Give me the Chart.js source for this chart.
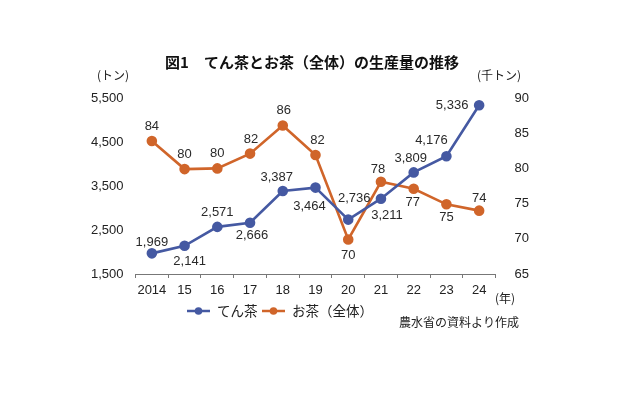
<!DOCTYPE html>
<html lang="ja">
<head>
<meta charset="UTF-8">
<title>てん茶とお茶（全体）の生産量の推移</title>
<script src="https://cdn.jsdelivr.net/npm/chart.js"></script>
<style>
  html, body { margin: 0; padding: 0; background: #fff; }
  #wrap { width: 638px; height: 404px; position: relative; }
</style>
</head>
<body>
<div id="wrap"><canvas id="myChart"></canvas></div>
<script>
// データ（農水省の資料より）
const years = ['2014', '15', '16', '17', '18', '19', '20', '21', '22', '23', '24'];
const tencha = [1969, 2141, 2571, 2666, 3387, 3464, 2736, 3211, 3809, 4176, 5336];   // トン
const ochaTotal = [83.9, 79.9, 80.0, 82.1, 86.1, 81.9, 69.9, 78.1, 77.1, 74.9, 74.0]; // 千トン
const leftTicks = [1500, 2500, 3500, 4500, 5500];
const rightTicks = [65, 70, 75, 80, 85, 90];

const BLUE = '#4559a2';
const ORANGE = '#d0652a';
const JP = '"Noto Sans CJK JP", "Noto Sans", sans-serif';
const NUM = '"Liberation Sans", Arial, sans-serif';

// ラベルの位置（点からのずれ）
const tenchaLabelOffset = [[0, -11], [5, 16], [0, -14], [2, 13], [-6, -14], [-6, 19],
                           [6, -21], [6, 17], [-3, -14], [-15, -16], [-27, 0]];
const ochaLabelOffset = [[0, -15], [0, -15], [0, -15], [1, -14], [1, -15], [2, -15],
                         [0, 16], [-3, -12], [-1, 14], [0, 13], [0, -12]];

const labelPlugin = {
    id: 'valueLabels',
    afterDatasetsDraw(chart) {
        const ctx = chart.ctx;
        ctx.save();
        ctx.font = '13px ' + NUM;
        ctx.fillStyle = '#2a2a2a';
        ctx.textAlign = 'center';
        ctx.textBaseline = 'middle';
        chart.getDatasetMeta(0).data.forEach((pt, i) => {
            const o = tenchaLabelOffset[i];
            ctx.fillText(tencha[i].toLocaleString('en-US'), pt.x + o[0], pt.y + o[1]);
        });
        chart.getDatasetMeta(1).data.forEach((pt, i) => {
            const o = ochaLabelOffset[i];
            ctx.fillText(String(Math.round(ochaTotal[i])), pt.x + o[0], pt.y + o[1]);
        });
        ctx.restore();
    }
};

// タイトル・単位・凡例・出所
const textPlugin = {
    id: 'extraText',
    afterDraw(chart) {
        const ctx = chart.ctx;
        ctx.save();
        ctx.fillStyle = '#111';
        ctx.textBaseline = 'middle';

        ctx.font = 'bold 15px ' + JP;
        ctx.textAlign = 'center';
        ctx.fillText('図1　てん茶とお茶（全体）の生産量の推移', 312, 62);

        ctx.font = '12px ' + JP;
        ctx.fillStyle = '#222';
        ctx.textAlign = 'left';
        ctx.fillText('(トン)', 97, 75);
        ctx.textAlign = 'right';
        ctx.fillText('(千トン)', 521, 75);
        ctx.textAlign = 'left';
        ctx.fillText('(年)', 495, 298);

        ctx.textAlign = 'right';
        ctx.fillText('農水省の資料より作成', 519, 322);

        // 凡例
        const items = [
            { x: 187, color: BLUE, text: 'てん茶' },
            { x: 262, color: ORANGE, text: 'お茶（全体）' }
        ];
        ctx.font = '13.5px ' + JP;
        ctx.textAlign = 'left';
        items.forEach(it => {
            ctx.strokeStyle = it.color;
            ctx.lineWidth = 2.5;
            ctx.beginPath();
            ctx.moveTo(it.x, 311);
            ctx.lineTo(it.x + 23, 311);
            ctx.stroke();
            ctx.fillStyle = it.color;
            ctx.beginPath();
            ctx.arc(it.x + 11.5, 311, 3.8, 0, Math.PI * 2);
            ctx.fill();
            ctx.fillStyle = '#222';
            ctx.fillText(it.text, it.x + 30, 311);
        });
        ctx.restore();
    }
};

const config = {
    type: 'line',
    data: {
        labels: years,
        datasets: [{
            label: 'てん茶',
            data: tencha,
            yAxisID: 'yLeft',
            borderColor: BLUE,
            backgroundColor: BLUE,
            borderWidth: 2.6,
            pointRadius: 4,
            pointHoverRadius: 4,
            tension: 0
        }, {
            label: 'お茶（全体）',
            data: ochaTotal,
            yAxisID: 'yRight',
            borderColor: ORANGE,
            backgroundColor: ORANGE,
            borderWidth: 2.6,
            pointRadius: 4,
            pointHoverRadius: 4,
            tension: 0
        }]
    },
    options: {
        responsive: true,
        maintainAspectRatio: false,
        animation: false,
        events: [],
        layout: { padding: { top: 98, left: 0, right: 0, bottom: 0 } },
        plugins: {
            legend: { display: false },
            title: { display: false },
            tooltip: { enabled: false }
        },
        scales: {
            x: {
                offset: true,
                grid: {
                    display: true,
                    offset: true,
                    drawOnChartArea: false,
                    drawTicks: true,
                    tickLength: 4,
                    color: '#777'
                },
                border: { display: true, color: '#777', width: 1 },
                ticks: {
                    padding: 5,
                    color: '#222',
                    font: { family: NUM, size: 13 },
                    maxRotation: 0,
                    autoSkip: false
                },
                afterFit(scale) { scale.height = 130; }
            },
            yLeft: {
                position: 'left',
                min: 1500,
                max: 5500,
                grid: { display: false },
                border: { display: false },
                afterBuildTicks(scale) { scale.ticks = leftTicks.map(v => ({ value: v })); },
                ticks: {
                    padding: 4,
                    color: '#222',
                    font: { family: NUM, size: 13 },
                    callback: v => v.toLocaleString('en-US')
                },
                afterFit(scale) { scale.width = 135.5; }
            },
            yRight: {
                position: 'right',
                min: 65,
                max: 90,
                grid: { display: false },
                border: { display: false },
                afterBuildTicks(scale) { scale.ticks = rightTicks.map(v => ({ value: v })); },
                ticks: {
                    padding: 11,
                    color: '#222',
                    font: { family: NUM, size: 13 }
                },
                afterFit(scale) { scale.width = 142.5; }
            }
        }
    },
    plugins: [labelPlugin, textPlugin]
};

new Chart(document.getElementById('myChart'), config);
</script>
</body>
</html>
